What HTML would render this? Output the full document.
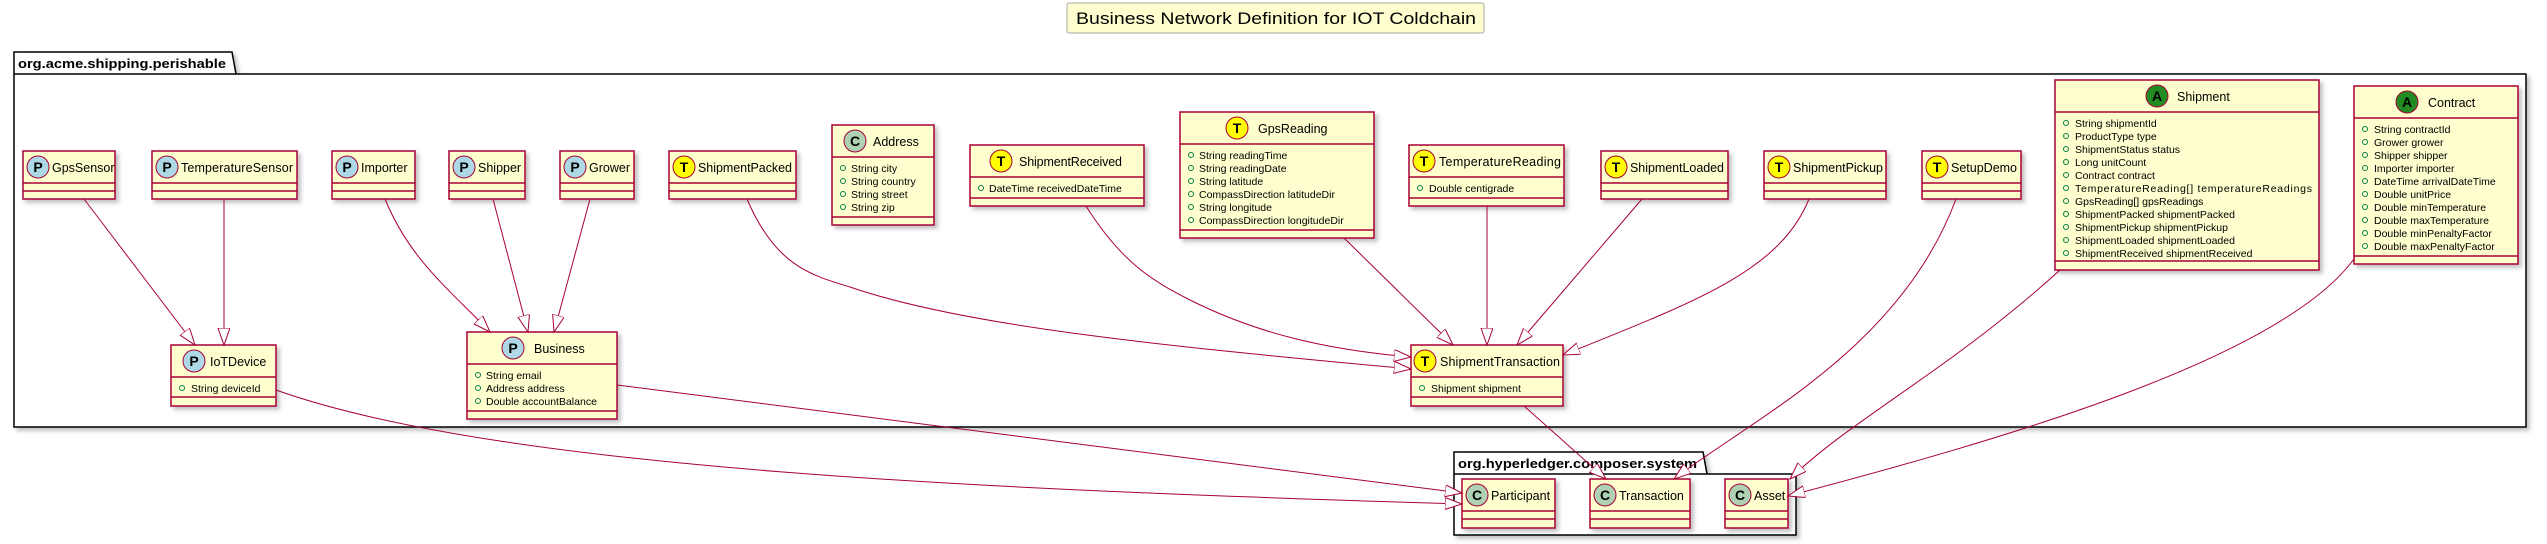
<!DOCTYPE html>
<html><head><meta charset="utf-8"><style>
html,body{margin:0;padding:0;background:#fff;}
svg{display:block;font-family:"Liberation Sans",sans-serif;}
.b{fill:#FEFECE;stroke:#A80036;stroke-width:1.5;filter:url(#sh);}
.l{stroke:#A80036;stroke-width:1.5;}
.n{font-size:12.5px;fill:#000;}
.a{font-size:10.5px;fill:#000;}
.ic{stroke:#A80036;stroke-width:1;}
.it{font-size:14px;font-weight:bold;text-anchor:middle;}
.bu{fill:none;stroke:#038048;stroke-width:1;}
.e{fill:none;stroke:#A80036;stroke-width:1;}
</style></head><body>
<svg width="2547" height="544" viewBox="0 0 2547 544" xmlns="http://www.w3.org/2000/svg">
<defs>
<filter id="sh" x="-10%" y="-10%" width="130%" height="130%"><feDropShadow dx="3" dy="3" stdDeviation="2" flood-color="#000" flood-opacity="0.25"/></filter>
<marker id="ar" markerUnits="userSpaceOnUse" markerWidth="22" markerHeight="14" refX="17" refY="6" orient="auto"><path d="M0,0 L17,6 L0,12 Z" fill="#fff" stroke="#A80036" stroke-width="1"/></marker>
</defs>

<!-- title -->
<rect x="1067" y="3" width="417" height="30" rx="2" fill="#FEFECE" stroke="#A8A8A8" stroke-width="1"/>
<text x="1076" y="24" font-size="17" textLength="400" lengthAdjust="spacingAndGlyphs">Business Network Definition for IOT Coldchain</text>

<!-- packages -->
<g filter="url(#sh)">
<path d="M14,74 L14,52 L232,52 L236,74 L2526,74 L2526,427 L14,427 Z" fill="#fff" stroke="#000" stroke-width="1.5"/>
<line x1="14" y1="74" x2="236" y2="74" stroke="#000" stroke-width="1.5"/>
<path d="M1454,474 L1454,452 L1703,452 L1707,474 L1796,474 L1796,535 L1454,535 Z" fill="#fff" stroke="#000" stroke-width="1.5"/>
<line x1="1454" y1="474" x2="1707" y2="474" stroke="#000" stroke-width="1.5"/>
</g>
<text x="18" y="68" font-size="13" font-weight="bold" textLength="208" lengthAdjust="spacingAndGlyphs">org.acme.shipping.perishable</text>
<text x="1458" y="468" font-size="13" font-weight="bold" textLength="239" lengthAdjust="spacingAndGlyphs">org.hyperledger.composer.system</text>

<!-- empty classes -->
<g>
<rect class="b" x="23" y="151" width="92" height="48"/><line class="l" x1="23" y1="183" x2="115" y2="183"/><line class="l" x1="23" y1="191" x2="115" y2="191"/>
<circle class="ic" cx="38" cy="167" r="11" fill="#ADD8E6"/><text class="it" x="38" y="172">P</text><text class="n" x="52" y="172">GpsSensor</text>

<rect class="b" x="152" y="151" width="145" height="48"/><line class="l" x1="152" y1="183" x2="297" y2="183"/><line class="l" x1="152" y1="191" x2="297" y2="191"/>
<circle class="ic" cx="167" cy="167" r="11" fill="#ADD8E6"/><text class="it" x="167" y="172">P</text><text class="n" x="181" y="172" textLength="112">TemperatureSensor</text>

<rect class="b" x="332" y="151" width="83" height="48"/><line class="l" x1="332" y1="183" x2="415" y2="183"/><line class="l" x1="332" y1="191" x2="415" y2="191"/>
<circle class="ic" cx="347" cy="167" r="11" fill="#ADD8E6"/><text class="it" x="347" y="172">P</text><text class="n" x="361" y="172">Importer</text>

<rect class="b" x="449" y="151" width="76" height="48"/><line class="l" x1="449" y1="183" x2="525" y2="183"/><line class="l" x1="449" y1="191" x2="525" y2="191"/>
<circle class="ic" cx="464" cy="167" r="11" fill="#ADD8E6"/><text class="it" x="464" y="172">P</text><text class="n" x="478" y="172">Shipper</text>

<rect class="b" x="560" y="151" width="74" height="48"/><line class="l" x1="560" y1="183" x2="634" y2="183"/><line class="l" x1="560" y1="191" x2="634" y2="191"/>
<circle class="ic" cx="575" cy="167" r="11" fill="#ADD8E6"/><text class="it" x="575" y="172">P</text><text class="n" x="589" y="172">Grower</text>

<rect class="b" x="669" y="151" width="127" height="48"/><line class="l" x1="669" y1="183" x2="796" y2="183"/><line class="l" x1="669" y1="191" x2="796" y2="191"/>
<circle class="ic" cx="684" cy="167" r="11" fill="#FFFF00"/><text class="it" x="684" y="172">T</text><text class="n" x="698" y="172" textLength="94">ShipmentPacked</text>

<rect class="b" x="1601" y="151" width="127" height="48"/><line class="l" x1="1601" y1="183" x2="1728" y2="183"/><line class="l" x1="1601" y1="191" x2="1728" y2="191"/>
<circle class="ic" cx="1616" cy="167" r="11" fill="#FFFF00"/><text class="it" x="1616" y="172">T</text><text class="n" x="1630" y="172" textLength="94">ShipmentLoaded</text>

<rect class="b" x="1764" y="151" width="122" height="48"/><line class="l" x1="1764" y1="183" x2="1886" y2="183"/><line class="l" x1="1764" y1="191" x2="1886" y2="191"/>
<circle class="ic" cx="1779" cy="167" r="11" fill="#FFFF00"/><text class="it" x="1779" y="172">T</text><text class="n" x="1793" y="172" textLength="90">ShipmentPickup</text>

<rect class="b" x="1922" y="151" width="99" height="48"/><line class="l" x1="1922" y1="183" x2="2021" y2="183"/><line class="l" x1="1922" y1="191" x2="2021" y2="191"/>
<circle class="ic" cx="1937" cy="167" r="11" fill="#FFFF00"/><text class="it" x="1937" y="172">T</text><text class="n" x="1951" y="172">SetupDemo</text>

<rect class="b" x="1462" y="479" width="93" height="49"/><line class="l" x1="1462" y1="511" x2="1555" y2="511"/><line class="l" x1="1462" y1="519" x2="1555" y2="519"/>
<circle class="ic" cx="1477" cy="495" r="11" fill="#ADD1B2"/><text class="it" x="1477" y="500">C</text><text class="n" x="1491" y="500">Participant</text>

<rect class="b" x="1590" y="479" width="100" height="49"/><line class="l" x1="1590" y1="511" x2="1690" y2="511"/><line class="l" x1="1590" y1="519" x2="1690" y2="519"/>
<circle class="ic" cx="1605" cy="495" r="11" fill="#ADD1B2"/><text class="it" x="1605" y="500">C</text><text class="n" x="1619" y="500">Transaction</text>

<rect class="b" x="1725" y="479" width="63" height="49"/><line class="l" x1="1725" y1="511" x2="1788" y2="511"/><line class="l" x1="1725" y1="519" x2="1788" y2="519"/>
<circle class="ic" cx="1740" cy="495" r="11" fill="#ADD1B2"/><text class="it" x="1740" y="500">C</text><text class="n" x="1754" y="500">Asset</text>
</g>

<!-- attribute classes -->
<g>
<!-- IoTDevice -->
<rect class="b" x="171" y="345" width="105" height="61"/><line class="l" x1="171" y1="377" x2="276" y2="377"/><line class="l" x1="171" y1="397" x2="276" y2="397"/>
<circle class="ic" cx="194" cy="361" r="11" fill="#ADD8E6"/><text class="it" x="194" y="366">P</text><text class="n" x="210" y="366">IoTDevice</text>
<circle class="bu" cx="182" cy="388" r="2.5"/><text class="a" x="191" y="392">String deviceId</text>

<!-- Business -->
<rect class="b" x="467" y="332" width="150" height="87"/><line class="l" x1="467" y1="364" x2="617" y2="364"/><line class="l" x1="467" y1="411" x2="617" y2="411"/>
<circle class="ic" cx="513" cy="348" r="11" fill="#ADD8E6"/><text class="it" x="513" y="353">P</text><text class="n" x="534" y="353">Business</text>
<circle class="bu" cx="478" cy="375" r="2.5"/><text class="a" x="486" y="379">String email</text>
<circle class="bu" cx="478" cy="388" r="2.5"/><text class="a" x="486" y="392">Address address</text>
<circle class="bu" cx="478" cy="401" r="2.5"/><text class="a" x="486" y="405">Double accountBalance</text>

<!-- Address -->
<rect class="b" x="832" y="125" width="102" height="100"/><line class="l" x1="832" y1="157" x2="934" y2="157"/><line class="l" x1="832" y1="217" x2="934" y2="217"/>
<circle class="ic" cx="855" cy="141" r="11" fill="#ADD1B2"/><text class="it" x="855" y="146">C</text><text class="n" x="873" y="146">Address</text>
<circle class="bu" cx="843" cy="168" r="2.5"/><text class="a" x="851" y="172">String city</text>
<circle class="bu" cx="843" cy="181" r="2.5"/><text class="a" x="851" y="185">String country</text>
<circle class="bu" cx="843" cy="194" r="2.5"/><text class="a" x="851" y="198">String street</text>
<circle class="bu" cx="843" cy="207" r="2.5"/><text class="a" x="851" y="211">String zip</text>

<!-- ShipmentReceived -->
<rect class="b" x="970" y="145" width="174" height="61"/><line class="l" x1="970" y1="177" x2="1144" y2="177"/><line class="l" x1="970" y1="198" x2="1144" y2="198"/>
<circle class="ic" cx="1001" cy="161" r="11" fill="#FFFF00"/><text class="it" x="1001" y="166">T</text><text class="n" x="1019" y="166" textLength="103">ShipmentReceived</text>
<circle class="bu" cx="981" cy="188" r="2.5"/><text class="a" x="989" y="192">DateTime receivedDateTime</text>

<!-- GpsReading -->
<rect class="b" x="1180" y="112" width="194" height="126"/><line class="l" x1="1180" y1="144" x2="1374" y2="144"/><line class="l" x1="1180" y1="230" x2="1374" y2="230"/>
<circle class="ic" cx="1237" cy="128" r="11" fill="#FFFF00"/><text class="it" x="1237" y="133">T</text><text class="n" x="1258" y="133">GpsReading</text>
<circle class="bu" cx="1191" cy="155" r="2.5"/><text class="a" x="1199" y="159">String readingTime</text>
<circle class="bu" cx="1191" cy="168" r="2.5"/><text class="a" x="1199" y="172">String readingDate</text>
<circle class="bu" cx="1191" cy="181" r="2.5"/><text class="a" x="1199" y="185">String latitude</text>
<circle class="bu" cx="1191" cy="194" r="2.5"/><text class="a" x="1199" y="198">CompassDirection latitudeDir</text>
<circle class="bu" cx="1191" cy="207" r="2.5"/><text class="a" x="1199" y="211">String longitude</text>
<circle class="bu" cx="1191" cy="220" r="2.5"/><text class="a" x="1199" y="224">CompassDirection longitudeDir</text>

<!-- TemperatureReading -->
<rect class="b" x="1409" y="145" width="155" height="61"/><line class="l" x1="1409" y1="177" x2="1564" y2="177"/><line class="l" x1="1409" y1="198" x2="1564" y2="198"/>
<circle class="ic" cx="1424" cy="161" r="11" fill="#FFFF00"/><text class="it" x="1424" y="166">T</text><text class="n" x="1439" y="166" textLength="122">TemperatureReading</text>
<circle class="bu" cx="1420" cy="188" r="2.5"/><text class="a" x="1429" y="192">Double centigrade</text>

<!-- ShipmentTransaction -->
<rect class="b" x="1411" y="345" width="152" height="61"/><line class="l" x1="1411" y1="377" x2="1563" y2="377"/><line class="l" x1="1411" y1="397" x2="1563" y2="397"/>
<circle class="ic" cx="1425" cy="361" r="11" fill="#FFFF00"/><text class="it" x="1425" y="366">T</text><text class="n" x="1440" y="366" textLength="120">ShipmentTransaction</text>
<circle class="bu" cx="1422" cy="388" r="2.5"/><text class="a" x="1431" y="392">Shipment shipment</text>

<!-- Shipment -->
<rect class="b" x="2055" y="80" width="264" height="190"/><line class="l" x1="2055" y1="112" x2="2319" y2="112"/><line class="l" x1="2055" y1="261" x2="2319" y2="261"/>
<circle class="ic" cx="2157" cy="96" r="11" fill="#228B22"/><text class="it" x="2157" y="101">A</text><text class="n" x="2177" y="101">Shipment</text>
<g>
<circle class="bu" cx="2066" cy="123" r="2.5"/><text class="a" x="2075" y="127">String shipmentId</text>
<circle class="bu" cx="2066" cy="136" r="2.5"/><text class="a" x="2075" y="140">ProductType type</text>
<circle class="bu" cx="2066" cy="149" r="2.5"/><text class="a" x="2075" y="153">ShipmentStatus status</text>
<circle class="bu" cx="2066" cy="162" r="2.5"/><text class="a" x="2075" y="166">Long unitCount</text>
<circle class="bu" cx="2066" cy="175" r="2.5"/><text class="a" x="2075" y="179">Contract contract</text>
<circle class="bu" cx="2066" cy="188" r="2.5"/><text class="a" x="2075" y="192" textLength="237">TemperatureReading[] temperatureReadings</text>
<circle class="bu" cx="2066" cy="201" r="2.5"/><text class="a" x="2075" y="205">GpsReading[] gpsReadings</text>
<circle class="bu" cx="2066" cy="214" r="2.5"/><text class="a" x="2075" y="218">ShipmentPacked shipmentPacked</text>
<circle class="bu" cx="2066" cy="227" r="2.5"/><text class="a" x="2075" y="231">ShipmentPickup shipmentPickup</text>
<circle class="bu" cx="2066" cy="240" r="2.5"/><text class="a" x="2075" y="244">ShipmentLoaded shipmentLoaded</text>
<circle class="bu" cx="2066" cy="253" r="2.5"/><text class="a" x="2075" y="257">ShipmentReceived shipmentReceived</text>
</g>

<!-- Contract -->
<rect class="b" x="2354" y="86" width="164" height="178"/><line class="l" x1="2354" y1="118" x2="2518" y2="118"/><line class="l" x1="2354" y1="256" x2="2518" y2="256"/>
<circle class="ic" cx="2407" cy="102" r="11" fill="#228B22"/><text class="it" x="2407" y="107">A</text><text class="n" x="2428" y="107">Contract</text>
<g>
<circle class="bu" cx="2365" cy="129" r="2.5"/><text class="a" x="2374" y="133">String contractId</text>
<circle class="bu" cx="2365" cy="142" r="2.5"/><text class="a" x="2374" y="146">Grower grower</text>
<circle class="bu" cx="2365" cy="155" r="2.5"/><text class="a" x="2374" y="159">Shipper shipper</text>
<circle class="bu" cx="2365" cy="168" r="2.5"/><text class="a" x="2374" y="172">Importer importer</text>
<circle class="bu" cx="2365" cy="181" r="2.5"/><text class="a" x="2374" y="185">DateTime arrivalDateTime</text>
<circle class="bu" cx="2365" cy="194" r="2.5"/><text class="a" x="2374" y="198">Double unitPrice</text>
<circle class="bu" cx="2365" cy="207" r="2.5"/><text class="a" x="2374" y="211">Double minTemperature</text>
<circle class="bu" cx="2365" cy="220" r="2.5"/><text class="a" x="2374" y="224">Double maxTemperature</text>
<circle class="bu" cx="2365" cy="233" r="2.5"/><text class="a" x="2374" y="237">Double minPenaltyFactor</text>
<circle class="bu" cx="2365" cy="246" r="2.5"/><text class="a" x="2374" y="250">Double maxPenaltyFactor</text>
</g>
</g>

<!-- edges -->
<g marker-end="url(#ar)">
<path class="e" d="M84,199 L195,345"/>
<path class="e" d="M224,199 L224,345"/>
<path class="e" d="M385,199 C410,260 450,290 490,332"/>
<path class="e" d="M493,199 L528,332"/>
<path class="e" d="M590,199 L554,332"/>
<path class="e" d="M747,199 C775,265 810,275 850,287 C960,325 1150,345 1411,369"/>
<path class="e" d="M1086,206 C1120,260 1150,280 1190,300 C1260,335 1330,350 1411,357"/>
<path class="e" d="M1344,238 L1453,345"/>
<path class="e" d="M1487,206 L1487,345"/>
<path class="e" d="M1642,199 L1517,345"/>
<path class="e" d="M1809,199 C1780,270 1700,300 1563,355"/>
<path class="e" d="M1956,199 C1900,350 1750,420 1674,479"/>
<path class="e" d="M2060,270 C1950,370 1850,420 1790,479"/>
<path class="e" d="M2354,259 C2280,360 2000,440 1788,496"/>
<path class="e" d="M276,390 C500,470 1000,490 1462,504"/>
<path class="e" d="M617,385 L1462,493"/>
<path class="e" d="M1524,406 L1606,479"/>
</g>
</svg>
</body></html>
